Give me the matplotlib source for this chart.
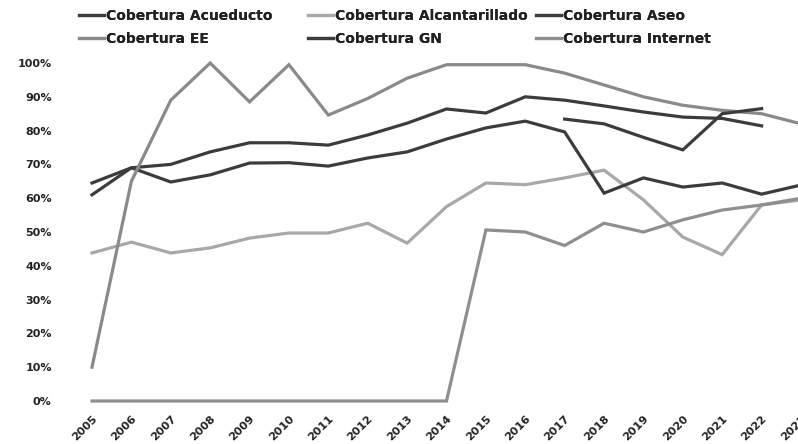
import matplotlib
matplotlib.use("Agg")
import matplotlib.pyplot as plt
from matplotlib.ticker import PercentFormatter

years = list(range(2005, 2024))

acueducto = [0.645, 0.69, 0.70, 0.737, 0.764, 0.764, 0.757, 0.787, 0.822, 0.864, 0.852, 0.90, 0.89, 0.873, 0.855, 0.84, 0.836, 0.814, None]
alcantarillado = [0.438, 0.47, 0.438, 0.453, 0.482, 0.497, 0.497, 0.526, 0.467, 0.575, 0.645, 0.64, 0.66, 0.683, 0.595, 0.485, 0.433, 0.58, 0.595]
aseo = [0.61, 0.69, 0.648, 0.669, 0.704, 0.705, 0.695, 0.719, 0.737, 0.775, 0.808, 0.828, 0.796, 0.615, 0.66, 0.633, 0.645, 0.612, 0.639]
ee = [0.10, 0.65, 0.89, 1.0, 0.885, 0.995, 0.846, 0.895, 0.955, 0.995, 0.995, 0.995, 0.97, 0.935, 0.90, 0.875, 0.86, 0.85, 0.82]
gn = [None, None, None, None, None, None, None, None, None, None, None, None, 0.834, 0.82, 0.78, 0.743, 0.85, 0.865, None]
internet = [0.0, 0.0, 0.0, 0.0, 0.0, 0.0, 0.0, 0.0, 0.0, 0.0, 0.506, 0.50, 0.46, 0.526, 0.50, 0.536, 0.565, 0.58, 0.60]

labels = ["Cobertura Acueducto", "Cobertura Alcantarillado", "Cobertura Aseo",
          "Cobertura EE", "Cobertura GN", "Cobertura Internet"]
series = [acueducto, alcantarillado, aseo, ee, gn, internet]
colors = ["#3c3c3c", "#a8a8a8", "#3c3c3c", "#8a8a8a", "#3c3c3c", "#8f8f8f"]

fig = plt.figure(figsize=(7.98, 4.44), dpi=100)
ax = fig.add_axes([92/798, 1-401/444, (801-92)/798, (401-63)/444])

handles = []
for vals, lab, c in zip(series, labels, colors):
    xs = [y for y, v in zip(years, vals) if v is not None]
    vs = [v for v in vals if v is not None]
    h, = ax.plot(xs, vs, color=c, lw=2.3, label=lab, clip_on=False,
                 solid_joinstyle="miter")
    handles.append(h)

ax.set_xlim(2005, 2023)
ax.set_ylim(0, 1.0)
ax.set_yticks([i/10 for i in range(11)])
ax.yaxis.set_major_formatter(PercentFormatter(1.0, decimals=0))
ax.set_xticks(years)
ax.set_xticklabels([str(y) for y in years], rotation=45, ha="right",
                   va="top", rotation_mode="anchor")
for lab in ax.get_xticklabels() + ax.get_yticklabels():
    lab.set_fontweight("bold")
    lab.set_fontsize(8)
    lab.set_color("#222222")
ax.tick_params(axis="y", length=0, pad=29)
ax.tick_params(axis="x", length=0, pad=9)
for s in ax.spines.values():
    s.set_visible(False)

col_x = [76/798, 305/798, 533/798]
for i, x in enumerate(col_x):
    idx = [i, i + 3]
    leg = fig.legend([handles[j] for j in idx], [labels[j] for j in idx],
                     loc="upper left", bbox_to_anchor=(x, 1.0 - 6/444),
                     frameon=False, fontsize=10, handlelength=1.8,
                     handletextpad=0.15, labelspacing=0.68, borderpad=0.2,
                     borderaxespad=0)
    for t in leg.get_texts():
        t.set_fontweight("bold")
        t.set_color("#222222")
    fig.add_artist(leg)

fig.savefig("out.png", dpi=100)
